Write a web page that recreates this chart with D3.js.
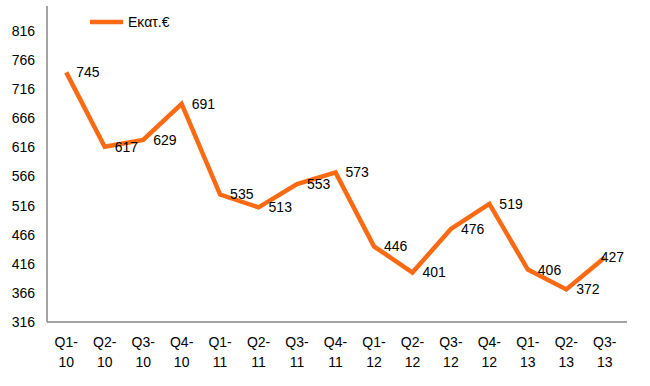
<!DOCTYPE html>
<html>
<head>
<meta charset="utf-8">
<script src="https://cdn.jsdelivr.net/npm/d3@7"></script>
<style>
  body { margin: 0; background: #fff; }
  text { font-family: "Liberation Sans", Arial, sans-serif; fill: #000; }
</style>
</head>
<body>
<div id="chart"></div>
<script>
const quarters = ["Q1-10", "Q2-10", "Q3-10", "Q4-10", "Q1-11", "Q2-11", "Q3-11", "Q4-11",
  "Q1-12", "Q2-12", "Q3-12", "Q4-12", "Q1-13", "Q2-13", "Q3-13"];
const values = [745, 617, 629, 691, 535, 513, 553, 573, 446, 401, 476, 519, 406, 372, 427];
const yTicks = [316, 366, 416, 466, 516, 566, 616, 666, 716, 766, 816];
const seriesName = "Εκατ.€";

const W = 650, H = 386;
const plot = { left: 47, right: 624, top: 6, bottom: 322 };
const orange = "#f96a12";
const fs = 14;

const svg = d3.select("#chart").append("svg")
  .attr("width", W)
  .attr("height", H);

const x = d3.scaleBand().domain(quarters).range([plot.left, plot.right]);
const y = d3.scaleLinear().domain([316, 859]).range([plot.bottom, plot.top]);

// y axis: line only, labels to the left
const yAxis = svg.append("g")
  .attr("transform", `translate(${plot.left},0)`)
  .call(d3.axisLeft(y).tickValues(yTicks).tickSize(0).tickPadding(12));
yAxis.select(".domain").attr("stroke", "#868686").attr("stroke-width", 1.5)
  .attr("d", `M0,${plot.top}V${plot.bottom}`);
yAxis.selectAll("text").attr("font-size", fs).attr("font-family", null);

// x axis
const xAxis = svg.append("g")
  .attr("transform", `translate(0,${plot.bottom})`)
  .call(d3.axisBottom(x).tickSize(0).tickFormat(""));
xAxis.select(".domain").attr("stroke", "#868686").attr("stroke-width", 1.5)
  .attr("d", `M${plot.left},0H${plot.right + 3}`);

xAxis.selectAll(".tick").each(function(d) {
  const parts = d.split("-");
  const t = d3.select(this).select("text")
    .attr("y", null).attr("dy", null)
    .attr("font-size", fs).attr("font-family", null)
    .text(null);
  t.append("tspan").attr("x", 0).attr("y", 25).text(parts[0] + "-");
  t.append("tspan").attr("x", 0).attr("y", 45).text(parts[1]);
});

const cx = d => x(d) + x.bandwidth() / 2;

const line = d3.line()
  .x((d, i) => cx(quarters[i]))
  .y(d => y(d));

svg.append("path")
  .datum(values)
  .attr("fill", "none")
  .attr("stroke", orange)
  .attr("stroke-width", 4.5)
  .attr("stroke-linejoin", "miter")
  .attr("d", line);

// value labels right of each point, kept inside the plot
svg.selectAll(".lbl")
  .data(values)
  .enter().append("text")
  .attr("class", "lbl")
  .attr("y", d => y(d))
  .attr("dy", "0.35em")
  .attr("font-size", fs)
  .text(d => d)
  .attr("x", function(d, i) {
    const w = this.getComputedTextLength();
    return Math.min(cx(quarters[i]) + 10, plot.right - w);
  });

// legend
const lg = svg.append("g");
lg.append("line")
  .attr("x1", 90).attr("x2", 123)
  .attr("y1", 22).attr("y2", 22)
  .attr("stroke", orange).attr("stroke-width", 4.5);
lg.append("text")
  .attr("x", 128).attr("y", 22).attr("dy", "0.35em")
  .attr("font-size", fs)
  .text(seriesName);
</script>
</body>
</html>
